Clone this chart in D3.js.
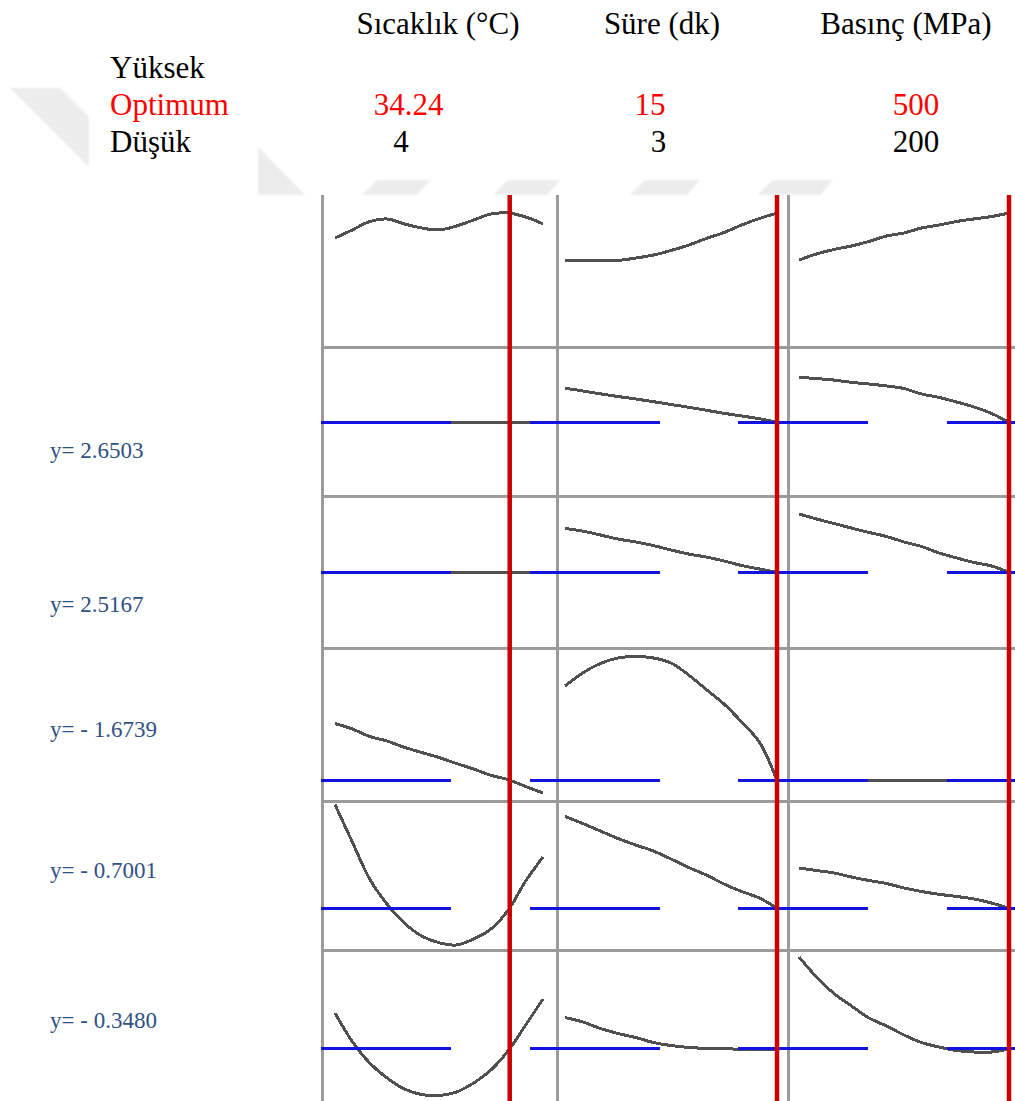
<!DOCTYPE html>
<html>
<head>
<meta charset="utf-8">
<script src="https://cdn.jsdelivr.net/npm/d3@7"></script>
<style>
  html, body { margin: 0; padding: 0; background: #ffffff; }
  svg { display: block; }
</style>
</head>
<body>
<svg id="chart" width="1015" height="1101"></svg>
<script>
// ---- Factors and settings ----
const factorNames   = ["Sıcaklık (°C)", "Süre (dk)", "Basınç (MPa)"];
const lowLevels     = [4, 3, 200];
const highLevels    = [40, 15, 500];
const optimumLevels = [34.24, 15, 500];

// Factor levels at which each response trace is evaluated
const temperatureGrid = [4, 7, 10, 13, 16, 19, 22, 25, 28, 31, 34, 37, 40];
const timeGrid        = [3, 4, 5, 6, 7, 8, 9, 10, 11, 12, 13, 14, 15];
const pressureGrid    = [200, 225, 250, 275, 300, 325, 350, 375, 400, 425, 450, 475, 500];

// Predicted response at the optimum setting (one per response row)
const predicted = [2.6503, 2.5167, -1.6739, -0.7001, -0.3480];

// Composite desirability traces: [temperature, time, pressure]
const desirability = [
  [0.722, 0.775, 0.831, 0.848, 0.815, 0.788, 0.775, 0.801, 0.841, 0.881, 0.887, 0.861, 0.815],
  [0.570, 0.570, 0.570, 0.573, 0.589, 0.609, 0.639, 0.675, 0.719, 0.758, 0.808, 0.851, 0.887],
  [0.576, 0.616, 0.646, 0.669, 0.699, 0.735, 0.755, 0.788, 0.808, 0.831, 0.848, 0.864, 0.887]
];
// Response traces: [temperature, time, pressure]
const response1 = [
  [2.6503, 2.6503, 2.6503, 2.6503, 2.6503, 2.6503, 2.6503, 2.6503, 2.6503, 2.6503, 2.6503, 2.6503, 2.6503],
  [2.877, 2.859, 2.840, 2.822, 2.806, 2.788, 2.769, 2.751, 2.731, 2.711, 2.693, 2.675, 2.6503],
  [2.949, 2.941, 2.931, 2.916, 2.905, 2.892, 2.875, 2.839, 2.816, 2.786, 2.753, 2.710, 2.6503]
];
const response2 = [
  [2.5167, 2.5167, 2.5167, 2.5167, 2.5167, 2.5167, 2.5167, 2.5167, 2.5167, 2.5167, 2.5167, 2.5167, 2.5167],
  [2.808, 2.791, 2.765, 2.738, 2.719, 2.695, 2.666, 2.639, 2.619, 2.593, 2.563, 2.540, 2.5167],
  [2.904, 2.871, 2.841, 2.811, 2.782, 2.755, 2.719, 2.689, 2.646, 2.613, 2.583, 2.560, 2.5167]
];
const response3 = [
  [-0.174, -0.319, -0.518, -0.637, -0.804, -0.942, -1.074, -1.233, -1.379, -1.546, -1.662, -1.842, -2.015],
  [0.820, 1.164, 1.416, 1.562, 1.601, 1.562, 1.429, 1.111, 0.727, 0.343, -0.134, -0.664, -1.6739],
  [-1.6739, -1.6739, -1.6739, -1.6739, -1.6739, -1.6739, -1.6739, -1.6739, -1.6739, -1.6739, -1.6739, -1.6739, -1.6739]
];
const response4 = [
  [2.051, 1.057, 0.077, -0.585, -1.088, -1.433, -1.610, -1.671, -1.512, -1.247, -0.744, 0.024, 0.660],
  [1.733, 1.547, 1.349, 1.150, 0.978, 0.819, 0.607, 0.382, 0.183, -0.055, -0.254, -0.426, -0.7001],
  [0.369, 0.302, 0.236, 0.130, 0.038, -0.042, -0.161, -0.254, -0.328, -0.386, -0.453, -0.558, -0.7001]
];
const response5 = [
  [0.129, -0.249, -0.533, -0.732, -0.878, -0.951, -0.964, -0.918, -0.798, -0.626, -0.368, -0.030, 0.314],
  [0.069, 0.010, -0.076, -0.143, -0.196, -0.262, -0.302, -0.328, -0.340, -0.346, -0.350, -0.350, -0.348],
  [0.871, 0.606, 0.387, 0.222, 0.063, -0.043, -0.163, -0.262, -0.322, -0.368, -0.388, -0.388, -0.348]
];

// Vertical extent of each row (desirability first, then the responses)
const rowDomains = [[0, 1], [2.15, 3.15], [2.01, 3.01], [-2.2, 1.8], [-1.83, 2.17], [-1.05, 0.95]];

// ---- Layout ----
const layout = {
  gridTop: 195, gridBottom: 1101, rightEdge: 1020,
  rowTop: 196, rowHeight: 151,
  colLines: [322.5, 557.5, 788.5],
  rowLines: [347, 496, 648.5, 801, 950.5],
  xRanges: [[335, 543], [565, 777], [799, 1009]],
  headerCenters: [438, 662, 906], headerBaseline: 34,
  optimumCenters: [408.5, 650, 916], optimumBaseline: 115,
  lowCenters: [401, 658.5, 916], lowBaseline: 152,
  rowNameX: 110, rowNameBaselines: [78, 115, 152],
  responseLabelX: 50, responseLabelBaselines: [458, 612, 737, 878, 1028]
};

const svg = d3.select("#chart");
const serif = "'Liberation Serif', 'Times New Roman', serif";

// ---- faint background emblem ----
const defs = svg.append("defs");
defs.append("filter").attr("id", "soft")
  .append("feGaussianBlur").attr("stdDeviation", 0.8);
const emblem = [
  [[10, 88], [60, 88], [89, 117], [89, 167]],
  [[258, 147], [261, 150], [305, 195], [258, 195]],
  [[362, 195], [377, 180], [430, 180], [417, 195]],
  [[493, 195], [508, 180], [560, 180], [547, 195]],
  [[630, 195], [645, 180], [700, 180], [687, 195]],
  [[757, 195], [773, 180], [833, 180], [820, 195]]
];
svg.append("g").attr("filter", "url(#soft)")
  .selectAll("polygon").data(emblem).join("polygon")
  .attr("points", d => d.map(p => p.join(",")).join(" "))
  .attr("fill", "#ececec");

// ---- scales ----
const xScales = highLevels.map((hi, j) =>
  d3.scaleLinear().domain([lowLevels[j], hi]).range(layout.xRanges[j]));
const yScales = rowDomains.map((dom, i) =>
  d3.scaleLinear().domain(dom)
    .range([layout.rowTop + layout.rowHeight * (i + 1), layout.rowTop + layout.rowHeight * i]));

const grids = [temperatureGrid, timeGrid, pressureGrid];
const rows = [desirability, response1, response2, response3, response4, response5];

// ---- header table ----
const header = svg.append("g").attr("font-family", serif).attr("font-size", 31);
header.selectAll("text.factor").data(factorNames).join("text")
  .attr("class", "factor")
  .attr("x", (d, j) => layout.headerCenters[j]).attr("y", layout.headerBaseline)
  .attr("text-anchor", "middle").attr("fill", "#000").text(d => d);

const rowNames = [
  { text: "Yüksek", color: "#000" },
  { text: "Optimum", color: "#ff0000" },
  { text: "Düşük", color: "#000" }
];
header.selectAll("text.rowname").data(rowNames).join("text")
  .attr("class", "rowname")
  .attr("x", layout.rowNameX).attr("y", (d, i) => layout.rowNameBaselines[i])
  .attr("fill", d => d.color).text(d => d.text);

header.selectAll("text.opt").data(optimumLevels).join("text")
  .attr("class", "opt")
  .attr("x", (d, j) => layout.optimumCenters[j]).attr("y", layout.optimumBaseline)
  .attr("text-anchor", "middle").attr("fill", "#ff0000").text(d => String(d));

header.selectAll("text.low").data(lowLevels).join("text")
  .attr("class", "low")
  .attr("x", (d, j) => layout.lowCenters[j]).attr("y", layout.lowBaseline)
  .attr("text-anchor", "middle").attr("fill", "#000").text(d => String(d));

// ---- panel frame ----
const frame = svg.append("g").attr("stroke", "#9b9b9b").attr("stroke-width", 3)
  .attr("shape-rendering", "crispEdges");
frame.selectAll("line.v").data(layout.colLines).join("line")
  .attr("class", "v")
  .attr("x1", d => d).attr("x2", d => d)
  .attr("y1", layout.gridTop).attr("y2", layout.gridBottom);
frame.selectAll("line.h").data(layout.rowLines).join("line")
  .attr("class", "h")
  .attr("x1", layout.colLines[0] - 1.5).attr("x2", layout.rightEdge)
  .attr("y1", d => d).attr("y2", d => d);

// ---- response traces ----
const traces = svg.append("g").attr("fill", "none").attr("stroke", "#505050")
  .attr("stroke-width", 3).attr("shape-rendering", "crispEdges");
rows.forEach((row, i) => {
  row.forEach((vals, j) => {
    const line = d3.line()
      .x((v, k) => xScales[j](grids[j][k]))
      .y(v => yScales[i](v))
      .curve(d3.curveCatmullRom.alpha(0.5));
    traces.append("path").attr("d", line(vals));
  });
});

// ---- predicted response reference lines ----
const ref = svg.append("g").attr("stroke", "#1212e4").attr("stroke-width", 3)
  .attr("stroke-dasharray", "130 78.5").attr("shape-rendering", "crispEdges");
predicted.forEach((p, i) => {
  const y = yScales[i + 1](p);
  ref.append("line")
    .attr("x1", layout.colLines[0] - 1.5).attr("x2", layout.rightEdge)
    .attr("y1", y).attr("y2", y);
});

// ---- current (optimum) settings ----
svg.append("g").selectAll("line").data(optimumLevels).join("line")
  .attr("x1", (d, j) => xScales[j](d)).attr("x2", (d, j) => xScales[j](d))
  .attr("y1", layout.gridTop).attr("y2", layout.gridBottom)
  .attr("stroke", "#cc0000").attr("stroke-width", 4.5);

// ---- predicted value labels ----
const fmt = v => "y= " + (v < 0 ? "- " + Math.abs(v).toFixed(4) : v.toFixed(4));
svg.append("g").attr("font-family", serif).attr("font-size", 23).attr("fill", "#2f5183")
  .selectAll("text").data(predicted).join("text")
  .attr("x", layout.responseLabelX)
  .attr("y", (d, i) => layout.responseLabelBaselines[i])
  .text(d => fmt(d));
</script>
</body>
</html>
